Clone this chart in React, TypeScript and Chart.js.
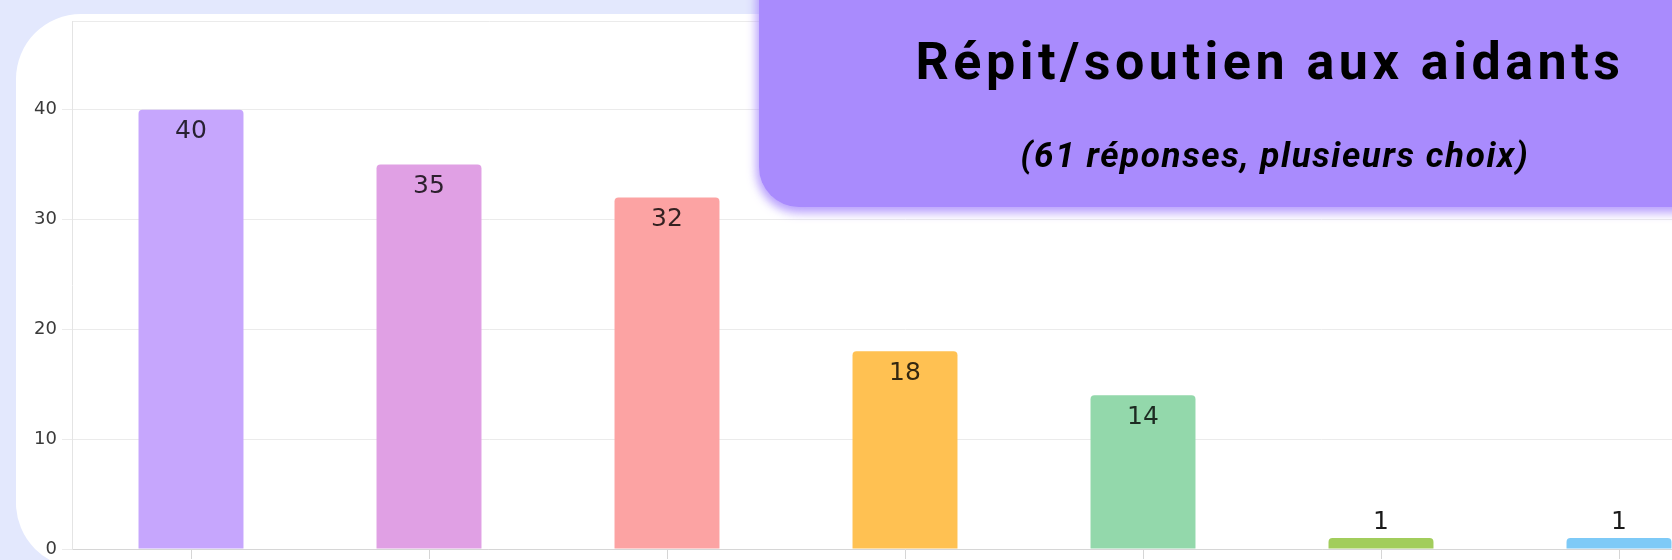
import React, { useEffect, useRef } from "react";
import { Chart, registerables } from "chart.js";

Chart.register(...registerables);

const categories = [
  "Accueil de jour",
  "Hébergement temporaire",
  "Groupes de parole",
  "Formation des aidants",
  "Aide à domicile",
  "Autre",
  "Ne sait pas",
];
const values = [40, 35, 32, 18, 14, 1, 1];
const barColors = ["#c6a6fd", "#e0a0e4", "#fca3a3", "#ffc152", "#93d8ab", "#a2cd5c", "#7ecaf7"];
const yTicks = [0, 10, 20, 30, 40];
const yMax = 48;
const titleText = "Répit/soutien aux aidants";
const subtitleText = "(61 réponses, plusieurs choix)";

const valueLabelPlugin = {
  id: "valueLabels",
  afterDatasetsDraw(chart: any) {
    const ctx = chart.ctx;
    const meta = chart.getDatasetMeta(0);
    ctx.save();
    ctx.font = "25px 'DejaVu Sans'";
    ctx.textAlign = "center";
    ctx.textBaseline = "middle";
    meta.data.forEach((bar: any, i: number) => {
      const v = chart.data.datasets[0].data[i];
      const h = bar.base - bar.y;
      if (h > 40) {
        ctx.fillStyle = "rgba(0,0,0,0.8)";
        ctx.fillText(String(v), bar.x, bar.y + 22);
      } else {
        ctx.fillStyle = "#1a1a1a";
        ctx.fillText(String(v), bar.x, bar.y - 16);
      }
    });
    ctx.restore();
  },
};

function BarChart() {
  const ref = useRef<HTMLCanvasElement | null>(null);
  useEffect(() => {
    if (!ref.current) return;
    const chart = new Chart(ref.current, {
      type: "bar",
      data: {
        labels: categories,
        datasets: [
          {
            data: values,
            backgroundColor: barColors,
            borderRadius: 4,
            borderSkipped: "start",
            barPercentage: 0.9,
            categoryPercentage: 0.49,
          },
        ],
      },
      options: {
        responsive: false,
        animation: false,
        layout: { padding: 0 },
        plugins: {
          legend: { display: false },
          tooltip: { enabled: false },
          title: { display: false },
        },
        scales: {
          x: {
            afterFit: (scale: any) => {
              scale.height = 16;
            },
            grid: {
              offset: false,
              drawOnChartArea: false,
              tickLength: 10,
              color: "#d6d6d6",
            },
            border: { color: "#d6d6d6" },
            ticks: { display: false },
          },
          y: {
            min: 0,
            max: yMax,
            afterFit: (scale: any) => {
              scale.width = 56;
            },
            afterBuildTicks: (scale: any) => {
              scale.ticks = [...yTicks, yMax].map((v) => ({ value: v }));
            },
            ticks: {
              callback: (v: any) => (yTicks.includes(Number(v)) ? String(v) : ""),
              font: { family: "'DejaVu Sans'", size: 18 },
              color: "#3a3a3a",
              padding: 5,
            },
            grid: {
              color: "#ebebeb",
              tickLength: 10,
              tickColor: (c: any) => (c.tick && c.tick.value === yMax ? "rgba(0,0,0,0)" : "#ebebeb"),
            },
            border: { color: "#e4e4e4" },
          },
        },
      },
      plugins: [valueLabelPlugin],
    });
    return () => chart.destroy();
  }, []);
  return (
    <canvas
      ref={ref}
      width={1722}
      height={559}
      style={{ position: "absolute", left: 0, top: -8, width: 1722, height: 559, display: "block" }}
    />
  );
}

export default function App() {
  return (
    <div
      style={{
        position: "fixed",
        left: 0,
        top: 0,
        width: 1672,
        height: 560,
        overflow: "hidden",
        background: "#e3e8fd",
      }}
    >
      <div
        style={{
          position: "absolute",
          left: 16,
          top: 14,
          width: 1800,
          height: 554,
          background: "#ffffff",
          borderRadius: "65px 0 0 65px",
          overflow: "hidden",
        }}
      >
        <BarChart />
      </div>
      <div
        style={{
          position: "absolute",
          left: 759,
          top: -45,
          width: 1030,
          height: 252,
          background: "#a98bfd",
          borderRadius: 40,
          boxShadow: "0 3px 10px 3px rgba(169,139,253,0.8)",
        }}
      />
      <div
        style={{
          position: "absolute",
          left: 755,
          width: 1030,
          top: 36,
          textAlign: "center",
          fontFamily: "Roboto",
          fontWeight: 700,
          fontSize: 52,
          lineHeight: "52px",
          letterSpacing: 4.5,
          color: "#000",
          whiteSpace: "nowrap",
        }}
      >
        {titleText}
      </div>
      <div
        style={{
          position: "absolute",
          left: 760,
          width: 1030,
          top: 137.5,
          textAlign: "center",
          fontFamily: "Roboto",
          fontStyle: "italic",
          fontWeight: 700,
          fontSize: 35,
          lineHeight: "35px",
          letterSpacing: 1.6,
          color: "#000",
          whiteSpace: "nowrap",
        }}
      >
        {subtitleText}
      </div>
    </div>
  );
}
